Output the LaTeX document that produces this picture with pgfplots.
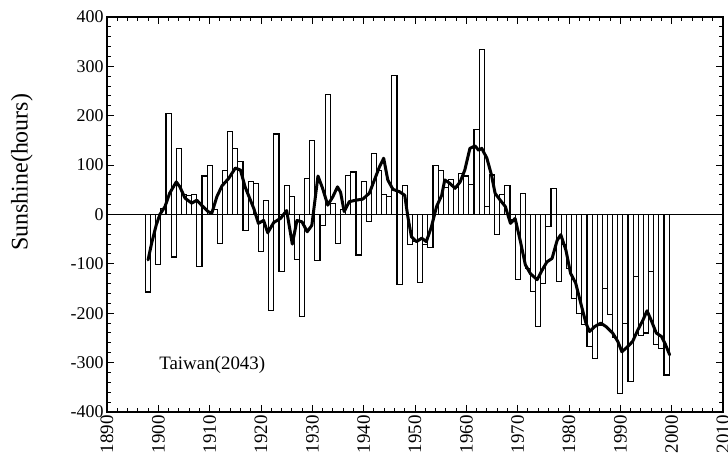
\documentclass[border=0pt]{standalone}
\usepackage{pgfplots}
\pgfplotsset{compat=1.18}
\usepackage{pgfplotstable}
\usepackage{fontspec}
\setmainfont{Liberation Serif}

\pgfplotstableread{
year val
1898 -157
1899 0
1900 -101
1901 13
1902 205
1903 -86
1904 133
1905 41
1906 38
1907 41
1908 -105
1909 78
1910 100
1911 10
1912 -58
1913 90
1914 169
1915 133
1916 107
1917 -33
1918 66
1919 63
1920 -75
1921 28
1922 -195
1923 163
1924 -116
1925 58
1926 36
1927 -91
1928 -206
1929 73
1930 149
1931 -93
1932 -22
1933 243
1934 23
1935 -58
1936 10
1937 79
1938 86
1939 -82
1940 67
1941 -15
1942 124
1943 90
1944 40
1945 36
1946 281
1947 -142
1948 58
1949 -60
1950 -55
1951 -138
1952 -60
1953 -67
1954 100
1955 89
1956 55
1957 70
1958 55
1959 83
1960 78
1961 60
1962 172
1963 335
1964 16
1965 80
1966 -40
1967 40
1968 58
1969 -10
1970 -132
1971 43
1972 -110
1973 -156
1974 -226
1975 -139
1976 -25
1977 53
1978 -136
1979 -60
1980 -110
1981 -170
1982 -200
1983 -222
1984 -268
1985 -291
1986 -225
1987 -149
1988 -203
1989 -250
1990 -362
1991 -220
1992 -338
1993 -126
1994 -245
1995 -240
1996 -116
1997 -264
1998 -271
1999 -325
}\bardata

\pgfplotstableread{
year val
1898.0 -92
1898.7 -58
1899.6 -21
1900.3 0
1901.3 16
1902.2 43
1903.5 66
1904.2 56
1905.2 33
1906.5 23
1907.5 29
1908.4 19
1909.7 6
1910.4 2
1911.4 36
1912.4 58
1913.7 73
1915.0 94
1916.0 90
1916.9 56
1918.6 12
1919.5 -18
1920.5 -12
1921.3 -37
1922.5 -16
1923.8 -8
1925.0 8
1926.1 -60
1927.0 -12
1928.0 -15
1929.0 -35
1929.9 -22
1931.1 78
1932.0 53
1933.0 19
1934.0 36
1934.9 56
1935.5 45
1936.2 6
1937.2 26
1938.5 29
1939.8 31
1941.1 43
1942.1 70
1943.1 97
1943.9 114
1944.7 70
1945.7 51
1947.0 46
1948.0 39
1948.6 -4
1949.3 -45
1950.3 -55
1951.3 -48
1952.2 -55
1953.2 -25
1954.2 16
1955.2 39
1955.8 70
1956.8 63
1957.8 53
1958.8 66
1959.7 90
1960.7 134
1961.7 139
1962.4 130
1963.0 134
1964.0 114
1964.9 80
1965.6 43
1966.6 29
1967.6 16
1968.6 -18
1969.5 -8
1970.5 -53
1971.5 -102
1972.5 -120
1973.8 -132
1974.8 -112
1975.7 -96
1976.7 -89
1977.7 -52
1978.4 -41
1979.4 -72
1980.3 -119
1981.3 -139
1982.3 -180
1983.3 -220
1984.0 -237
1985.0 -227
1986.2 -220
1987.2 -227
1988.5 -240
1989.5 -257
1990.3 -278
1991.4 -268
1992.4 -257
1993.4 -234
1994.4 -214
1995.2 -195
1996.0 -214
1997.0 -240
1998.0 -247
1998.7 -261
1999.6 -284
}\smoothdata

\begin{document}
\begin{tikzpicture}
\begin{axis}[
  width=616bp, height=395bp, scale only axis,
  xmin=1890, xmax=2010, ymin=-400, ymax=400,
  xtick={1890,1900,...,2010}, ytick={-400,-300,...,400},
  minor x tick num=4, minor y tick num=4,
  tick align=inside,
  major tick length=7bp, minor tick length=4bp,
  axis line style={line width=1.3bp},
  every tick/.style={black, line width=1bp},
  /pgf/number format/1000 sep={},
  /pgf/number format/assume math mode=true,
  every tick label/.append style={font=\fontsize{19}{19}\selectfont},
  xticklabel style={rotate=90, anchor=east, font=\fontsize{19}{19}\selectfont},
  yticklabel style={font=\fontsize{18}{18}\selectfont},
  ylabel={Sunshine(hours)},
  ylabel style={font=\fontsize{24}{24}\selectfont, at={(axis description cs:-0.138,0.607)}, anchor=center},
]
\addplot[ybar, bar width=1, fill=white, draw=black, line width=1.1bp] table[x=year, y=val] {\bardata};
\addplot[black, line width=0.7bp] coordinates {(1890,0) (2010,0)};
\addplot[black, line width=3bp, line join=round, line cap=round] table[x=year, y=val] {\smoothdata};
\node[anchor=west, font=\fontsize{19}{19}\selectfont] at (axis cs:1899.5,-305) {Taiwan(2043)};
\end{axis}
\pgfresetboundingbox
\path[use as bounding box] ([xshift=-107bp,yshift=-47bp]current axis.south west) rectangle ([xshift=5bp,yshift=17bp]current axis.north east);
\end{tikzpicture}
\end{document}
